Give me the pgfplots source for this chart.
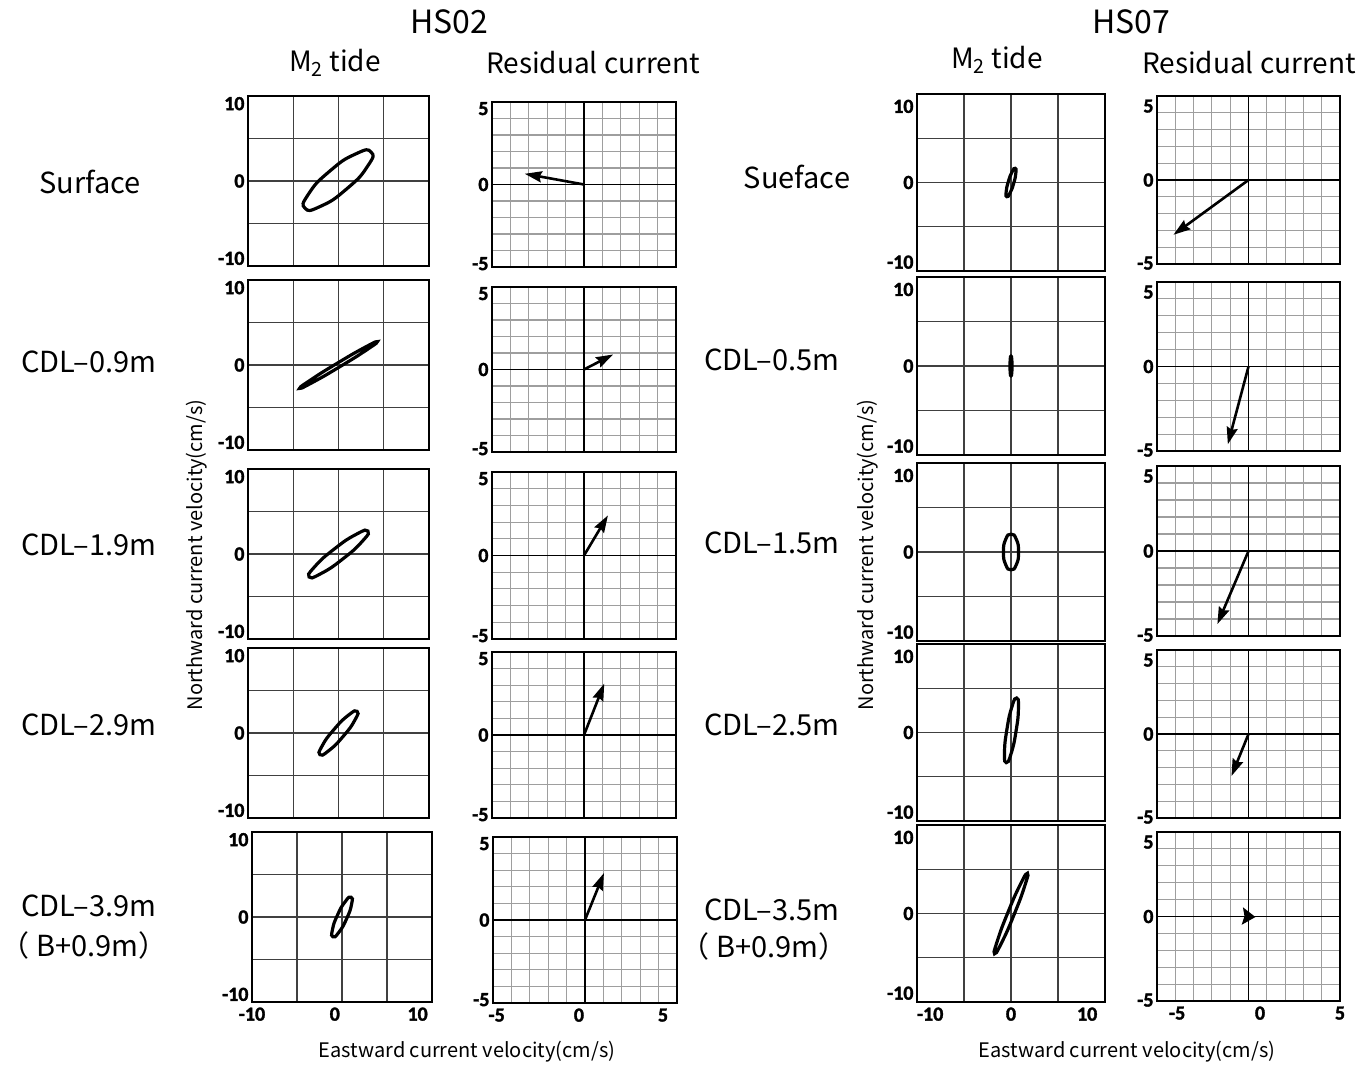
\documentclass[border=0pt]{standalone}
\usepackage{fontspec}
\setmainfont{Noto Sans CJK JP}
\newfontfamily\tickfont{Carlito}[UprightFont={* Bold}, FakeBold=1.6]
\usepackage{pgfplots}
\pgfplotsset{compat=1.18}
\usetikzlibrary{arrows.meta}

\newcommand\tl[1]{\mbox{\tickfont\fontsize{20}{21}\selectfont #1}}
\newcommand\lab[1]{{\fontsize{29}{31}\selectfont #1}}

\pgfplotsset{
  panel/.style={scale only axis, anchor=north west,
    axis line style={black,line width=1.4pt},
    major tick length=0pt, minor tick length=0pt, grid=minor,
    xticklabels={}, xticklabel style={yshift=-2pt}},
  % M2 tide panels: grid every 5 cm/s
  tide/.style={panel, xmin=-10, xmax=10, ymin=-10, ymax=10,
    xtick={-10,0,10}, minor xtick={-5,0,5}, minor ytick={-5,0,5},
    yticklabels={\tl{-10},\tl{0},\tl{10}},
    minor grid style={black!75,line width=1.1pt}},
  tideA/.style={tide, ytick={-9.1,0,9.1}},
  tideB/.style={tide, ytick={-9.0,0,8.6}},
  % residual panels: grid every 1 cm/s, black zero lines
  resid/.style={panel, xmin=-5, xmax=5, ymin=-5, ymax=5,
    xtick={-5,0,5},
    minor xtick={-4,-3,-2,-1,1,2,3,4}, minor ytick={-4,-3,-2,-1,1,2,3,4},
    yticklabels={\tl{-5},\tl{0},\tl{5}},
    minor grid style={black!38,line width=1.1pt},
    extra x ticks={0}, extra y ticks={0},
    extra x tick labels={}, extra y tick labels={},
    extra tick style={grid=major, major grid style={black,line width=1.3pt}}},
  residA/.style={resid, ytick={-4.8,0,4.6}},
  residB/.style={resid, ytick={-4.95,0,4.4}},
  ell/.style={black, line width=3.2pt, smooth cycle, tension=1, no markers},
  vec/.style={black, line width=2.6pt, no markers,
    -{Stealth[length=17pt,width=11pt,inset=2pt]}}
}

\begin{document}
\begin{tikzpicture}
\useasboundingbox (0,0) rectangle (1371pt,-1065pt);

% ---------------- titles ----------------
\node[font=\fontsize{32}{34}\selectfont] at (449pt,-22pt) {HS02};
\node[font=\fontsize{28}{30}\selectfont] at (335pt,-63pt) {M\textsubscript{2} tide};
\node[font=\fontsize{28}{30}\selectfont] at (593pt,-63pt) {Residual current};
\node[font=\fontsize{32}{34}\selectfont] at (1131pt,-22pt) {HS07};
\node[font=\fontsize{28}{30}\selectfont] at (997pt,-60pt) {M\textsubscript{2} tide};
\node[font=\fontsize{28}{30}\selectfont] at (1249pt,-63pt) {Residual current};

% ---------------- row labels ----------------
\node at (90pt,-182pt) {\lab{Surface}};
\node at (89pt,-362pt) {\lab{CDL–0.9m}};
\node at (89pt,-545pt) {\lab{CDL–1.9m}};
\node at (89pt,-725pt) {\lab{CDL–2.9m}};
\node at (89pt,-906pt) {\lab{CDL–3.9m}};
\node at (84pt,-945pt) {\lab{（ B+0.9m）}};
\node at (797pt,-177pt) {\lab{Sueface}};
\node at (772pt,-360pt) {\lab{CDL–0.5m}};
\node at (772pt,-543pt) {\lab{CDL–1.5m}};
\node at (772pt,-725pt) {\lab{CDL–2.5m}};
\node at (772pt,-910pt) {\lab{CDL–3.5m}};
\node at (764pt,-946pt) {\lab{（ B+0.9m）}};

% ---------------- axis titles ----------------
\node[rotate=90,font=\fontsize{20}{22}\selectfont] at (197pt,-555pt) {Northward current velocity(cm/s)};
\node[rotate=90,font=\fontsize{20}{22}\selectfont] at (868pt,-555pt) {Northward current velocity(cm/s)};
\node[font=\fontsize{20}{22}\selectfont] at (467pt,-1052pt) {Eastward current velocity(cm/s)};
\node[font=\fontsize{20}{22}\selectfont] at (1127pt,-1052pt) {Eastward current velocity(cm/s)};

% ================= HS02, M2 tide =================
\begin{axis}[tideA, at={(248pt,-96pt)}, width=181pt, height=170pt]
\addplot[ell] coordinates {(3.60,3.40) (1.87,3.17) (-0.99,1.14) (-3.29,-1.50)
  (-3.70,-3.20) (-1.97,-2.97) (0.89,-0.94) (3.19,1.70)};
\end{axis}
\begin{axis}[tideA, at={(248pt,-280pt)}, width=181pt, height=170pt]
\addplot[ell] coordinates {(4.30,2.75) (2.945,2.093) (-0.135,0.211) (-3.135,-1.795)
  (-4.30,-2.75) (-2.945,-2.093) (0.135,-0.211) (3.135,1.795)};
\end{axis}
\begin{axis}[tideA, at={(248pt,-469pt)}, width=181pt, height=170pt]
\addplot[ell] coordinates {(3.25,2.70) (1.956,2.315) (-0.479,0.577) (-2.634,-1.499)
  (-3.25,-2.70) (-1.956,-2.315) (0.479,-0.577) (2.634,1.499)};
\end{axis}
\begin{axis}[tideA, at={(248pt,-648pt)}, width=181pt, height=170pt]
\addplot[ell] coordinates {(2.05,2.55) (1.089,2.089) (-0.506,0.407) (-1.805,-1.513)
  (-2.05,-2.55) (-1.089,-2.089) (0.506,-0.407) (1.805,1.513)};
\end{axis}
\begin{axis}[tideA, at={(252pt,-832pt)}, width=180pt, height=170pt,
  xtick={-10,-0.8,8.4}, xticklabels={\tl{-10},\tl{0},\tl{10}}]
\addplot[ell] coordinates {(1.0,2.33) (0.348,1.797) (-0.505,0.217) (-1.062,-1.491)
  (-1.0,-2.33) (-0.348,-1.797) (0.505,-0.217) (1.062,1.491)};
\end{axis}

% ================= HS02, residual =================
\begin{axis}[residA, at={(492pt,-102pt)}, width=184pt, height=165pt]
\addplot[vec] coordinates {(0,0) (-3.22,0.65)};
\end{axis}
\begin{axis}[residA, at={(492pt,-287pt)}, width=184pt, height=165pt]
\addplot[vec] coordinates {(0,0) (1.58,0.91)};
\end{axis}
\begin{axis}[residA, at={(492pt,-472pt)}, width=184pt, height=167pt]
\addplot[vec] coordinates {(0,0) (1.3,2.4)};
\end{axis}
\begin{axis}[residA, at={(492pt,-652pt)}, width=184pt, height=166pt]
\addplot[vec] coordinates {(0,0) (1.1,3.1)};
\end{axis}
\begin{axis}[residA, at={(493pt,-837pt)}, width=184pt, height=166pt,
  xtick={-4.8,-0.33,4.24}, xticklabels={\tl{-5},\tl{0},\tl{5}}]
\addplot[vec] coordinates {(0,0) (1.03,2.83)};
\end{axis}

% ================= HS07, M2 tide =================
\begin{axis}[tideB, at={(917pt,-94pt)}, width=188pt, height=177pt]
\addplot[ell] coordinates {(0.44,1.60) (0.108,1.188) (-0.289,0.080) (-0.516,-1.076)
  (-0.44,-1.60) (-0.108,-1.188) (0.289,-0.080) (0.516,1.076)};
\end{axis}
\begin{axis}[tideB, at={(917pt,-277pt)}, width=188pt, height=178pt]
\addplot[ell] coordinates {(0,1.1) (-0.085,0.78) (-0.12,0) (-0.085,-0.78)
  (0,-1.1) (0.085,-0.78) (0.12,0) (0.085,0.78)};
\end{axis}
\begin{axis}[tideB, at={(917pt,-463pt)}, width=188pt, height=178pt]
\addplot[ell] coordinates {(0,2.0) (-0.57,1.41) (-0.8,0) (-0.57,-1.41)
  (0,-2.0) (0.57,-1.41) (0.8,0) (0.57,1.41)};
\end{axis}
\begin{axis}[tideB, at={(917pt,-644pt)}, width=188pt, height=177pt]
\addplot[ell] coordinates {(0.60,3.90) (0.09,2.88) (-0.44,0.32) (-0.69,-2.28)
  (-0.50,-3.40) (0.01,-2.38) (0.54,0.18) (0.79,2.78)};
\end{axis}
\begin{axis}[tideB, at={(917pt,-825pt)}, width=188pt, height=177pt,
  xtick={-8.6,0,8.1}, xticklabels={\tl{-10},\tl{0},\tl{10}}]
\addplot[ell] coordinates {(1.75,4.55) (1.003,3.308) (-0.327,0.125) (-1.465,-3.132)
  (-1.75,-4.55) (-1.003,-3.308) (0.327,-0.125) (1.465,3.132)};
\end{axis}

% ================= HS07, residual =================
\begin{axis}[residB, at={(1157pt,-96pt)}, width=183pt, height=168pt]
\addplot[vec] coordinates {(0,0) (-4.1,-3.26)};
\end{axis}
\begin{axis}[residB, at={(1157pt,-282pt)}, width=183pt, height=169pt]
\addplot[vec] coordinates {(0,0) (-1.13,-4.6)};
\end{axis}
\begin{axis}[residB, at={(1157pt,-466pt)}, width=183pt, height=170pt]
\addplot[vec] coordinates {(0,0) (-1.7,-4.3)};
\end{axis}
\begin{axis}[residB, at={(1157pt,-650pt)}, width=183pt, height=168pt]
\addplot[vec] coordinates {(0,0) (-0.93,-2.5)};
\end{axis}
\begin{axis}[residB, at={(1157pt,-832pt)}, width=183pt, height=169pt,
  xtick={-3.9,0.63,5}, xticklabels={\tl{-5},\tl{0},\tl{5}}]
\addplot[black, line width=2.6pt, no markers, -{Stealth[length=13pt,width=17pt,inset=2pt]}]
  coordinates {(0,0) (0.38,-0.03)};
\end{axis}

\end{tikzpicture}
\end{document}
